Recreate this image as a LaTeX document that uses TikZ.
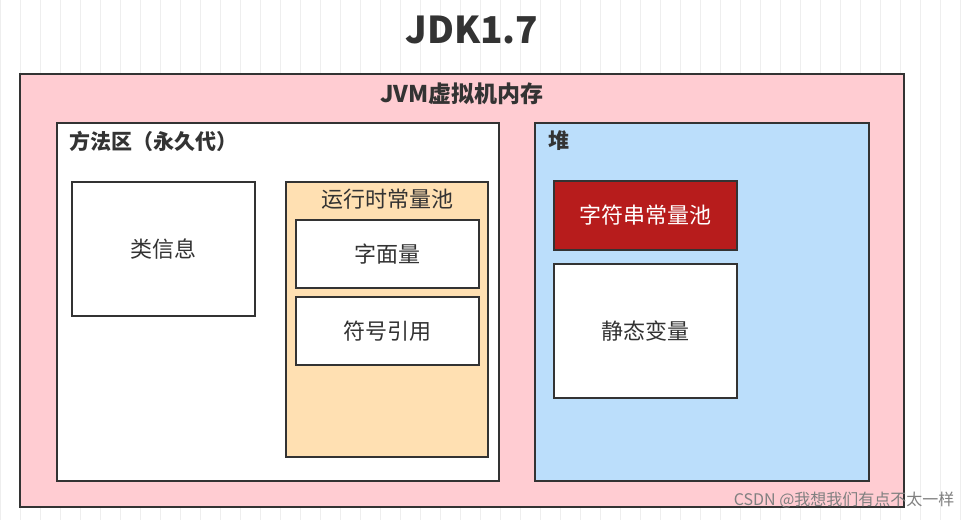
\documentclass[tikz,border=0pt]{standalone}
\usepackage{fontspec}
\setmainfont{Noto Sans CJK SC}
\definecolor{pinkbg}{HTML}{FFCCD2}
\definecolor{orangebg}{HTML}{FFE0B2}
\definecolor{bluebg}{HTML}{BBDEFB}
\definecolor{redbox}{HTML}{B71C1C}
\definecolor{edge}{HTML}{333333}
\definecolor{gridc}{HTML}{EEEEEE}
\tikzset{
  box/.style={draw=edge, line width=1.5pt},
  lbl/.style={font=\fontsize{22}{26}\selectfont, text=edge},
  blbl/.style={font=\fontsize{21}{25}\selectfont\bfseries, text=edge, anchor=west},
}
\begin{document}
\begin{tikzpicture}[x=1pt,y=-1pt]
\useasboundingbox (0,0) rectangle (968,520);
\fill[white] (0,0) rectangle (968,520);
\draw[gridc, line width=0.5pt, step=20] (0,0) grid (968,520);
\node[font=\fontsize{37}{42}\selectfont\bfseries, text=edge] (title) at (472,30) {JDK1.7};
\draw[box, fill=pinkbg] (20,74) rectangle (904,507);
\node[font=\fontsize{23}{27}\selectfont\bfseries, text=edge] (jvm) at (462,94) {JVM虚拟机内存};
\draw[box, fill=white] (57,123) rectangle (499,481);
\node[blbl] (ma) at (66,141) {方法区（永久代）};
\draw[box, fill=white] (72,182) rectangle (255,316);
\node[lbl] (cls) at (163.5,249) {类信息};
\draw[box, fill=orangebg] (286,182) rectangle (488,457);
\node[lbl] (rcp) at (387,199) {运行时常量池};
\draw[box, fill=white] (296,220) rectangle (479,288);
\node[lbl] (lit) at (387.5,254) {字面量};
\draw[box, fill=white] (296,297) rectangle (479,365);
\node[lbl] (sym) at (387.5,331) {符号引用};
\draw[box, fill=bluebg] (535,123) rectangle (869,481);
\node[blbl] (heap) at (545,141) {堆};
\draw[box, fill=redbox] (554,181) rectangle (737,250);
\node[lbl, text=white] (scp) at (645.5,215.5) {字符串常量池};
\draw[box, fill=white] (554,264) rectangle (737,398);
\node[lbl] (sv) at (645.5,331) {静态变量};
\node[font=\fontsize{16}{19}\selectfont, text=gray, anchor=east] (wm) at (958,500) {CSDN @我想我们有点不太一样};
\end{tikzpicture}
\end{document}
